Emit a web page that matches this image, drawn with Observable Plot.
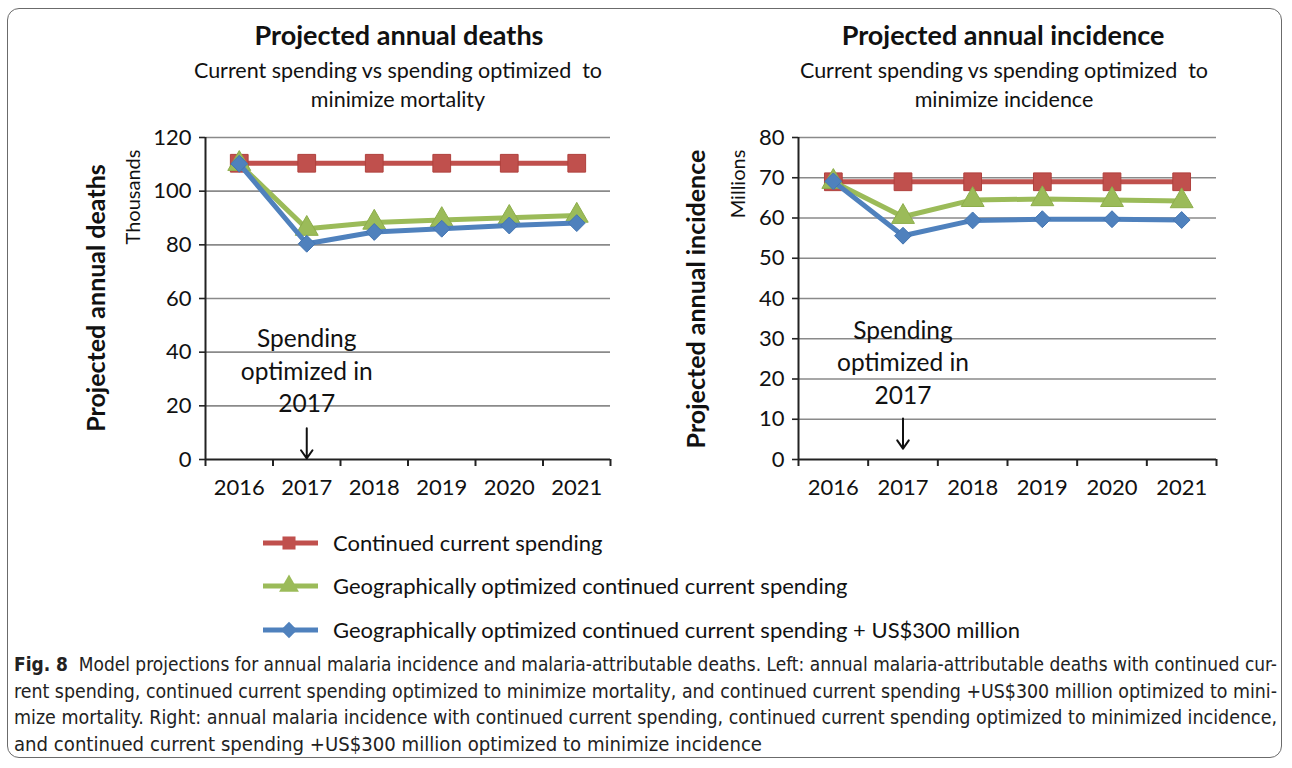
<!DOCTYPE html>
<html><head><meta charset="utf-8">
<script src="https://cdn.jsdelivr.net/npm/d3@7"></script>
<script src="https://cdn.jsdelivr.net/npm/@observablehq/plot@0.6"></script>
<style>
body{margin:0;width:1292px;height:768px;background:#fff;position:relative;overflow:hidden;font-family:Lato,sans-serif;color:#111;}
.abs{position:absolute;}
#border{position:absolute;left:7px;top:8px;width:1275px;height:750px;border:1.5px solid #6b6b6b;border-radius:12px;box-sizing:border-box;}
.title{font-weight:bold;font-size:27px;text-align:center;width:600px;transform:translateX(-50%);line-height:30px;}
.sub{font-size:21.5px;text-align:center;width:600px;transform:translateX(-50%);line-height:29px;}
.ylab{font-weight:bold;font-size:25px;transform:translate(-50%,-50%) rotate(-90deg);white-space:nowrap;}
.ysub{font-size:20px;transform:translate(-50%,-50%) rotate(-90deg);white-space:nowrap;}
#caption{position:absolute;left:14px;top:652px;width:1263px;font-family:"Liberation Sans Narrow","DejaVu Sans Condensed",sans-serif;font-size:19.5px;line-height:26.7px;color:#222;}
#caption div{white-space:nowrap;transform-origin:0 50%;width:max-content;}
</style>
</head><body>
<div id="border"></div>
<div class="abs title" style="left:399px;top:20px">Projected annual deaths</div>
<div class="abs sub" style="left:398px;top:56px">Current spending vs spending optimized&nbsp; to<br>minimize mortality</div>
<div class="abs title" style="left:1003px;top:20px">Projected annual incidence</div>
<div class="abs sub" style="left:1004px;top:56px">Current spending vs spending optimized&nbsp; to<br>minimize incidence</div>
<div class="abs ylab" style="left:95px;top:298px">Projected annual deaths</div>
<div class="abs ysub" style="left:132px;top:197px">Thousands</div>
<div class="abs ylab" style="left:695px;top:299px">Projected annual incidence</div>
<div class="abs ysub" style="left:737px;top:184px">Millions</div>
<div id="left" class="abs" style="left:60px;top:120px"></div>
<div id="right" class="abs" style="left:650px;top:120px"></div>
<div id="legend" class="abs" style="left:240px;top:518px"></div>
<div id="caption">
<div class="j"><b>Fig. 8</b>&nbsp; Model projections for annual malaria incidence and malaria-attributable deaths. Left: annual malaria-attributable deaths with continued cur-</div>
<div class="j">rent spending, continued current spending optimized to minimize mortality, and continued current spending +US$300 million optimized to mini-</div>
<div class="j">mize mortality. Right: annual malaria incidence with continued current spending, continued current spending optimized to minimized incidence,</div>
<div class="last">and continued current spending +US$300 million optimized to minimize incidence</div>
</div>
<script>
// ---- data ----
const years = [2016, 2017, 2018, 2019, 2020, 2021];
const deathsCurrent   = [110.4, 110.4, 110.4, 110.4, 110.4, 110.4];
const deathsOptimized = [110.2, 86.0, 88.3, 89.3, 90.1, 90.9];
const deathsPlus300   = [110.2, 80.4, 84.8, 86.0, 87.2, 88.1];
const incidenceCurrent   = [69.0, 69.0, 69.0, 69.0, 69.0, 69.0];
const incidenceOptimized = [69.0, 60.3, 64.5, 64.7, 64.5, 64.2];
const incidencePlus300   = [69.1, 55.6, 59.4, 59.7, 59.7, 59.5];
const deathTicks = [0, 20, 40, 60, 80, 100, 120];
const incidenceTicks = [0, 10, 20, 30, 40, 50, 60, 70, 80];
const seriesNames = [
  "Continued current spending",
  "Geographically optimized continued current spending",
  "Geographically optimized continued current spending + US$300 million"
];
const noteText = "Spending\noptimized in\n2017";
const noteYear = 2017;

// ---- styles ----
const colors = ["#C0504D", "#9BBB59", "#4F81BD"];
const edges = ["#B0403D", "#8DAE4B", "#4375B2"];
const symbols = ["square", "triangle", "diamond2"];
const radii = [10, 8.5, 7.6];

function chart({series, ticks, width, ml, mr, noteY, arrowFrom, arrowTo}) {
  const bounds = years.map(y => y - 0.5).concat([years[years.length - 1] + 0.5]);
  const marks = [
    Plot.gridY(ticks.slice(1), {stroke: "#8a8a8a", strokeOpacity: 1, strokeWidth: 1.6}),
    Plot.axisY(ticks, {tickSize: 6, tickPadding: 8, stroke: "#222", strokeWidth: 1.6, fill: "#111", fontSize: 22, label: null}),
    Plot.axisX(years, {tickSize: 0, tickPadding: 20, tickFormat: "d", fill: "#111", fontSize: 22, label: null}),
    Plot.axisX(bounds, {tickSize: 7, tickFormat: () => "", stroke: "#222", strokeWidth: 2, label: null}),
    Plot.ruleY([ticks[0]], {stroke: "#222", strokeWidth: 2}),
    Plot.ruleX([bounds[0]], {stroke: "#222", strokeWidth: 2})
  ];
  series.forEach((vals, si) => {
    marks.push(Plot.line(years, {x: d => d, y: (d, i) => vals[i], stroke: colors[si], strokeWidth: 5}));
    marks.push(Plot.dot(years, {x: d => d, y: (d, i) => vals[i], symbol: symbols[si], r: radii[si], fill: colors[si], stroke: edges[si], strokeWidth: 1}));
  });
  marks.push(Plot.text([noteText], {x: () => noteYear, y: () => noteY, text: d => d, fontSize: 24.5, lineHeight: 1.32, fill: "#111", textAnchor: "middle", lineAnchor: "middle"}));
  marks.push(Plot.arrow([0], {x: () => noteYear, y1: () => arrowFrom, y2: () => arrowTo, stroke: "#111", strokeWidth: 2, headLength: 14, headAngle: 70}));
  return Plot.plot({
    width, height: 400,
    marginLeft: ml, marginRight: mr, marginTop: 17, marginBottom: 61,
    style: {fontFamily: "Lato, sans-serif", fontSize: "22px", background: "transparent", overflow: "visible"},
    x: {domain: [bounds[0], bounds[bounds.length - 1]]},
    y: {domain: [ticks[0], ticks[ticks.length - 1]]},
    marks
  });
}

document.getElementById("left").appendChild(chart({
  series: [deathsCurrent, deathsOptimized, deathsPlus300], ticks: deathTicks,
  width: 560, ml: 145, mr: 10, noteY: 33.6, arrowFrom: 11.6, arrowTo: 0.4
}));
document.getElementById("right").appendChild(chart({
  series: [incidenceCurrent, incidenceOptimized, incidencePlus300], ticks: incidenceTicks,
  width: 580, ml: 148, mr: 14, noteY: 24.5, arrowFrom: 10.2, arrowTo: 2.7
}));

// ---- legend ----
const lg = d3.select("#legend").append("svg").attr("width", 820).attr("height", 135)
  .style("font-family", "Lato, sans-serif");
const rowsY = [25, 68, 112];
seriesNames.forEach((name, i) => {
  const g = lg.append("g").attr("transform", `translate(0,${rowsY[i]})`);
  g.append("line").attr("x1", 23).attr("x2", 78).attr("stroke", colors[i]).attr("stroke-width", 5);
  g.append("path").attr("transform", "translate(49,0)")
    .attr("d", d3.symbol(i === 0 ? d3.symbolSquare : i === 1 ? d3.symbolTriangle : d3.symbolDiamond2, 170)())
    .attr("fill", colors[i]);
  g.append("text").attr("x", 93).attr("dy", "0.35em").attr("font-size", 22).attr("fill", "#111").text(name);
});

// ---- caption fitting: full lines span the caption width, last line its natural run ----
const capW = 1263, lastW = 748;
document.querySelectorAll("#caption .j").forEach(el => {
  const w = el.getBoundingClientRect().width;
  el.style.transform = `scaleX(${capW / w})`;
});
const lastLine = document.querySelector("#caption .last");
lastLine.style.transform = `scaleX(${lastW / lastLine.getBoundingClientRect().width})`;
</script>
</body></html>
